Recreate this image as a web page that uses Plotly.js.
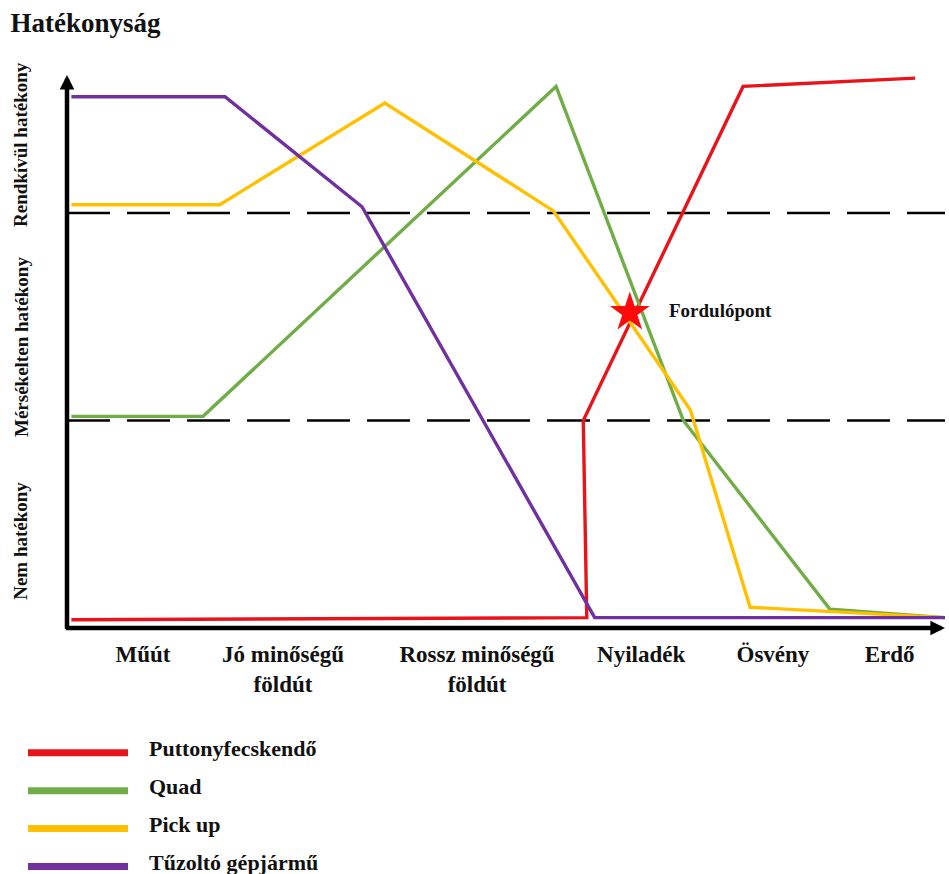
<!DOCTYPE html>
<html>
<head>
<meta charset="utf-8">
<script src="https://cdn.plot.ly/plotly-3.0.1.min.js"></script>
<style>html,body{margin:0;padding:0;background:#fff;}#chart{width:949px;height:874px;}</style>
</head>
<body>
<div id="chart"></div>
<script>
// ---- data ----
const categories = ['Műút', 'Jó minőségű<br>földút', 'Rossz minőségű<br>földút', 'Nyiladék', 'Ösvény', 'Erdő'];
const categoryPos = [8.66, 24.6, 46.7, 65.4, 80.4, 93.7];

const levelLabels = ['Nem hatékony', 'Mérsékelten hatékony', 'Rendkívül hatékony'];
const levelCenters = [0.42, 1.354, 2.333];
const thresholds = [1, 2];

const seriesNames = ['Puttonyfecskendő', 'Quad', 'Pick up', 'Tűzoltó gépjármű'];
const seriesColors = ['#e8141b', '#70ad47', '#ffc000', '#7030a0'];

const puttonyX = [0.5, 59.2, 58.8, 77.0, 96.6];
const puttonyY = [0.04, 0.05, 1.0, 2.61, 2.65];
const quadX = [0.5, 15.5, 55.7, 70.2, 86.9, 100];
const quadY = [1.02, 1.02, 2.61, 1.0, 0.09, 0.05];
const pickupX = [0.5, 17.4, 36.2, 55.4, 71.0, 77.8, 100];
const pickupY = [2.04, 2.04, 2.53, 2.01, 1.05, 0.10, 0.05];
const tuzoltoX = [0.5, 18.0, 33.6, 60.1, 100];
const tuzoltoY = [2.56, 2.56, 2.03, 0.05, 0.05];

const turningPointX = [64.1];
const turningPointY = [1.52];
const turningPointLabel = 'Fordulópont';

const yMax = 2.665;
const xMax = 100;

// ---- build ----
const FONT = 'Liberation Serif';
const b = s => '<b>' + s.split('<br>').join('</b><br><b>') + '</b>';
const traces = [];

thresholds.forEach(t => {
  traces.push({
    x: [0, xMax], y: [t, t], mode: 'lines', showlegend: false, hoverinfo: 'skip',
    line: {color: '#000', width: 2.5, dash: '43px,17px'}
  });
});

const seriesX = [puttonyX, quadX, pickupX, tuzoltoX];
const seriesY = [puttonyY, quadY, pickupY, tuzoltoY];
seriesNames.forEach((n, i) => {
  traces.push({
    x: seriesX[i], y: seriesY[i], name: n, mode: 'lines', showlegend: false,
    line: {color: seriesColors[i], width: 3.4}
  });
});

traces.push({
  x: turningPointX, y: turningPointY, mode: 'markers', showlegend: false,
  marker: {symbol: 'star', size: 30, color: '#ff0a0a', line: {width: 0}}
});

const annotations = [];
// axis arrows
annotations.push({x: 0, y: yMax, ax: 0, ay: -0.012, xref: 'x', yref: 'y', axref: 'x', ayref: 'y',
  showarrow: true, arrowhead: 2, arrowsize: 0.65, arrowwidth: 4.5, arrowcolor: '#000', text: ''});
annotations.push({x: xMax, y: 0, ax: -0.3, ay: 0, xref: 'x', yref: 'y', axref: 'x', ayref: 'y',
  showarrow: true, arrowhead: 2, arrowsize: 0.65, arrowwidth: 4.5, arrowcolor: '#000', text: ''});

// level labels
levelLabels.forEach((t, i) => {
  annotations.push({x: -0.0524, y: levelCenters[i], xref: 'paper', yref: 'y', text: b(t), showarrow: false,
    textangle: -90, xanchor: 'center', yanchor: 'middle',
    font: {family: FONT, size: 19, color: '#111'}});
});

// turning point label
annotations.push({x: turningPointX[0], y: turningPointY[0], xref: 'x', yref: 'y', text: b(turningPointLabel),
  showarrow: false, xanchor: 'left', yanchor: 'middle', xshift: 37, yshift: 2,
  font: {family: FONT, size: 19, color: '#111'}});

// custom legend
const shapes = [];
const legTop = -0.2255, legStep = 0.0686;
seriesNames.forEach((n, i) => {
  const yy = legTop - i * legStep;
  shapes.push({type: 'line', xref: 'paper', yref: 'paper', x0: -0.0444, x1: 0.0695, y0: yy, y1: yy,
    line: {color: seriesColors[i], width: 7}});
  annotations.push({x: 0.091, y: yy, xref: 'paper', yref: 'paper', text: b(n), showarrow: false,
    xanchor: 'left', yanchor: 'middle', yshift: 4,
    font: {family: FONT, size: 22, color: '#111'}});
});

const layout = {
  width: 949, height: 874,
  margin: {l: 67, r: 4, t: 75, b: 246},
  paper_bgcolor: '#fff', plot_bgcolor: '#fff',
  showlegend: false,
  font: {family: FONT},
  title: {text: b('Hatékonyság'), x: 0.011, xanchor: 'left', y: 0.9737, yanchor: 'middle',
    xref: 'container', yref: 'container',
    font: {family: FONT, size: 27, color: '#111'}},
  xaxis: {range: [0, xMax], showgrid: false, zeroline: false, showline: false, ticks: '',
    tickvals: categoryPos, ticktext: categories.map(b), ticklabelstandoff: 10,
    tickfont: {family: FONT, size: 23, color: '#111'}, fixedrange: true},
  yaxis: {range: [0, yMax], showgrid: false, zeroline: false, showline: false, ticks: '',
    showticklabels: false, fixedrange: true},
  annotations: annotations,
  shapes: shapes
};

Plotly.newPlot('chart', traces, layout, {displayModeBar: false, staticPlot: true});
</script>
</body>
</html>
